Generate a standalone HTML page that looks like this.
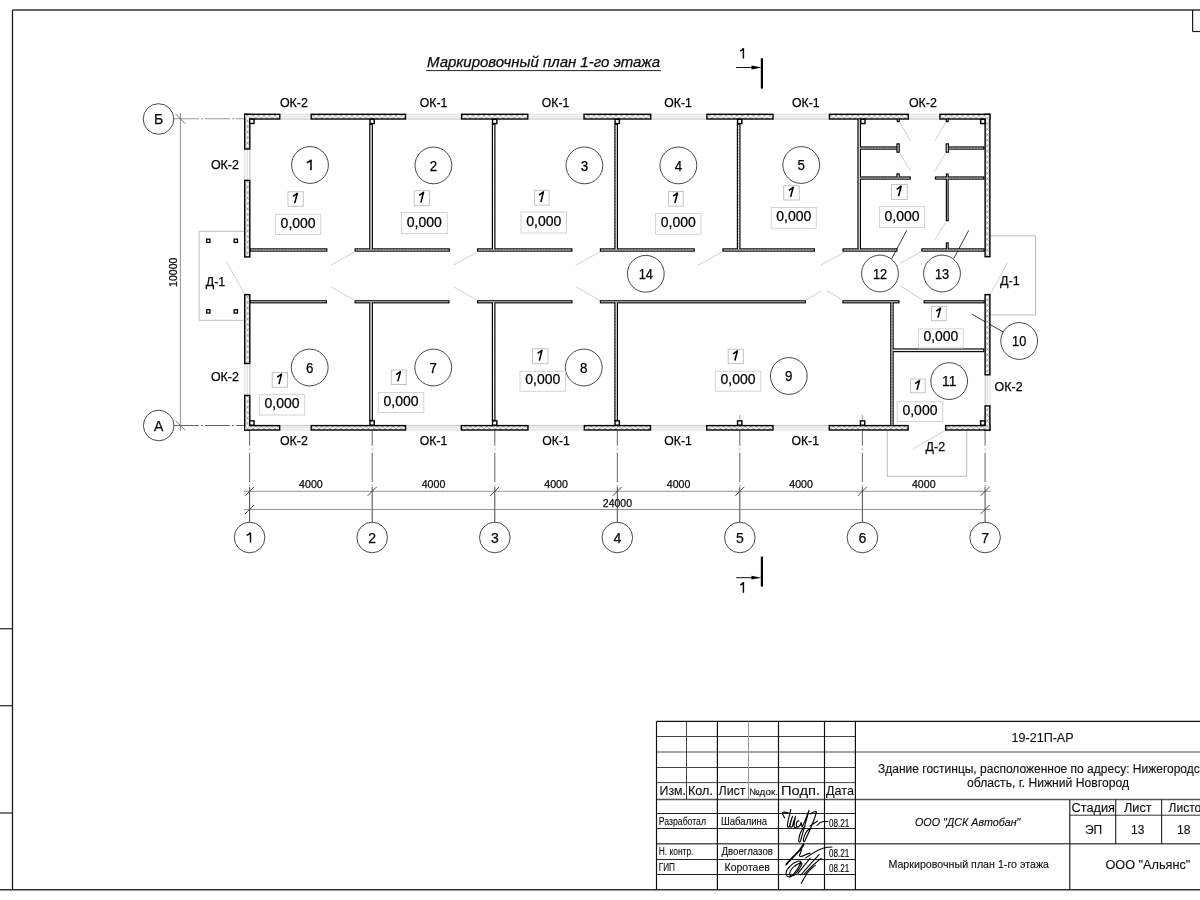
<!DOCTYPE html><html><head><meta charset="utf-8"><style>html,body{margin:0;padding:0;background:#fff;}svg{display:block;will-change:transform;}text{font-family:"Liberation Sans",sans-serif;stroke:#000;stroke-width:0.25px;}</style></head><body>
<svg width="1200" height="900" viewBox="0 0 1200 900">
<defs><pattern id="hatch" patternUnits="userSpaceOnUse" width="5.5" height="5.5"><rect width="5.5" height="5.5" fill="#f6f6f6"/><path d="M0,0L5.5,5.5M5.5,0L0,5.5" stroke="#8a8a8a" stroke-width="0.7"/></pattern><pattern id="phatch" patternUnits="userSpaceOnUse" width="3" height="3"><rect width="3" height="3" fill="#f0f0f0"/><rect width="1.2" height="1.2" fill="#aaa"/></pattern></defs>
<rect width="1200" height="900" fill="#fff"/>
<line x1="12.5" y1="10" x2="1200" y2="10" stroke="#333" stroke-width="1.6" />
<line x1="12.5" y1="10" x2="12.5" y2="890" stroke="#1c1c1c" stroke-width="1.3" />
<line x1="0" y1="889.8" x2="1200" y2="889.8" stroke="#333" stroke-width="1.6" />
<line x1="1192.6" y1="10" x2="1192.6" y2="31.5" stroke="#1c1c1c" stroke-width="1.2" />
<line x1="1192.6" y1="31.5" x2="1200" y2="31.5" stroke="#1c1c1c" stroke-width="1.2" />
<line x1="0" y1="628.7" x2="12.5" y2="628.7" stroke="#333" stroke-width="1.3" />
<line x1="0" y1="705.7" x2="12.5" y2="705.7" stroke="#333" stroke-width="1.3" />
<line x1="0" y1="813" x2="12.5" y2="813" stroke="#333" stroke-width="1.3" />
<text x="427" y="67.4" font-size="14" text-anchor="start" fill="#111" font-style="italic" textLength="233" lengthAdjust="spacingAndGlyphs" >Маркировочный план 1-го этажа</text>
<line x1="426" y1="70.6" x2="661" y2="70.6" stroke="#222" stroke-width="1.0" />
<line x1="761.9" y1="58.3" x2="761.9" y2="88.6" stroke="#000" stroke-width="2.2" />
<line x1="736.2" y1="67.5" x2="752" y2="67.5" stroke="#111" stroke-width="1.0" />
<path d="M751.5,65.6 L761.5,67.5 L751.5,69.4 Z" fill="#000"/>
<path d="M740.3,51.00 C741.8,50.20 742.9,49.40 743.4,48.20 L743.4,58.60" fill="none" stroke="#000" stroke-width="1.45"/>
<line x1="761.9" y1="556.6" x2="761.9" y2="586.6" stroke="#000" stroke-width="2.2" />
<line x1="736.2" y1="577.7" x2="752" y2="577.7" stroke="#111" stroke-width="1.0" />
<path d="M751.5,575.8000000000001 L761.5,577.7 L751.5,579.6 Z" fill="#000"/>
<path d="M740.3,585.10 C741.8,584.30 742.9,583.50 743.4,582.30 L743.4,592.70" fill="none" stroke="#000" stroke-width="1.45"/>
<polyline points="244.6,231.3 199.1,231.3 199.1,320.3 244.6,320.3" fill="none" stroke="#b4b4b4" stroke-width="0.9"/>
<polyline points="990,235.8 1035.5,235.8 1035.5,314.9 990,314.9" fill="none" stroke="#b4b4b4" stroke-width="0.9"/>
<polyline points="887.3,430.4 887.3,476.3 966.7,476.3 966.7,430.4" fill="none" stroke="#b4b4b4" stroke-width="0.9"/>
<rect x="206.65" y="239.15" width="3.30" height="3.30" fill="#fff" stroke="#000" stroke-width="1.3"/>
<rect x="234.15" y="239.15" width="3.30" height="3.30" fill="#fff" stroke="#000" stroke-width="1.3"/>
<rect x="206.65" y="309.75" width="3.30" height="3.30" fill="#fff" stroke="#000" stroke-width="1.3"/>
<rect x="234.15" y="309.75" width="3.30" height="3.30" fill="#fff" stroke="#000" stroke-width="1.3"/>
<line x1="249.6" y1="430.7" x2="249.6" y2="489" stroke="#555" stroke-width="0.9" stroke-dasharray="29.5,3,1,3" stroke-dashoffset="14.5"/>
<line x1="249.6" y1="487.0" x2="249.6" y2="522" stroke="#333" stroke-width="0.9" />
<circle cx="249.6" cy="537.5" r="15.3" fill="none" stroke="#333" stroke-width="0.9"/>
<path d="M246.60,535.3 C248.50,534.6 250.00,533.6 250.50,532.6 L250.50,542.5" fill="none" stroke="#000" stroke-width="1.4"/>
<line x1="372.2" y1="430.7" x2="372.2" y2="489" stroke="#555" stroke-width="0.9" stroke-dasharray="29.5,3,1,3" stroke-dashoffset="14.5"/>
<line x1="372.2" y1="487.0" x2="372.2" y2="522" stroke="#333" stroke-width="0.9" />
<circle cx="372.2" cy="537.5" r="15.3" fill="none" stroke="#333" stroke-width="0.9"/>
<text x="372.2" y="542.6" font-size="14" text-anchor="middle" fill="#111" >2</text>
<line x1="494.8" y1="430.7" x2="494.8" y2="489" stroke="#555" stroke-width="0.9" stroke-dasharray="29.5,3,1,3" stroke-dashoffset="14.5"/>
<line x1="494.8" y1="487.0" x2="494.8" y2="522" stroke="#333" stroke-width="0.9" />
<circle cx="494.8" cy="537.5" r="15.3" fill="none" stroke="#333" stroke-width="0.9"/>
<text x="494.8" y="542.6" font-size="14" text-anchor="middle" fill="#111" >3</text>
<line x1="617.3" y1="430.7" x2="617.3" y2="489" stroke="#555" stroke-width="0.9" stroke-dasharray="29.5,3,1,3" stroke-dashoffset="14.5"/>
<line x1="617.3" y1="487.0" x2="617.3" y2="522" stroke="#333" stroke-width="0.9" />
<circle cx="617.3" cy="537.5" r="15.3" fill="none" stroke="#333" stroke-width="0.9"/>
<text x="617.3" y="542.6" font-size="14" text-anchor="middle" fill="#111" >4</text>
<line x1="739.8" y1="430.7" x2="739.8" y2="489" stroke="#555" stroke-width="0.9" stroke-dasharray="29.5,3,1,3" stroke-dashoffset="14.5"/>
<line x1="739.8" y1="487.0" x2="739.8" y2="522" stroke="#333" stroke-width="0.9" />
<circle cx="739.8" cy="537.5" r="15.3" fill="none" stroke="#333" stroke-width="0.9"/>
<text x="739.8" y="542.6" font-size="14" text-anchor="middle" fill="#111" >5</text>
<line x1="862.4" y1="430.7" x2="862.4" y2="489" stroke="#555" stroke-width="0.9" stroke-dasharray="29.5,3,1,3" stroke-dashoffset="14.5"/>
<line x1="862.4" y1="487.0" x2="862.4" y2="522" stroke="#333" stroke-width="0.9" />
<circle cx="862.4" cy="537.5" r="15.3" fill="none" stroke="#333" stroke-width="0.9"/>
<text x="862.4" y="542.6" font-size="14" text-anchor="middle" fill="#111" >6</text>
<line x1="985.1" y1="430.7" x2="985.1" y2="489" stroke="#555" stroke-width="0.9" stroke-dasharray="29.5,3,1,3" stroke-dashoffset="14.5"/>
<line x1="985.1" y1="487.0" x2="985.1" y2="522" stroke="#333" stroke-width="0.9" />
<circle cx="985.1" cy="537.5" r="15.3" fill="none" stroke="#333" stroke-width="0.9"/>
<text x="985.1" y="542.6" font-size="14" text-anchor="middle" fill="#111" >7</text>
<line x1="739.8" y1="414.8" x2="739.8" y2="420" stroke="#999" stroke-width="0.9" />
<line x1="862.4" y1="414.8" x2="862.4" y2="420" stroke="#999" stroke-width="0.9" />
<line x1="174" y1="118.75" x2="244.0" y2="118.75" stroke="#999" stroke-width="1.2" stroke-dasharray="25,2,2,2"/>
<line x1="174" y1="425.5" x2="244.0" y2="425.5" stroke="#555" stroke-width="0.9" stroke-dasharray="25,2,2,2"/>
<circle cx="158.5" cy="119" r="15.3" fill="none" stroke="#333" stroke-width="0.9"/>
<text x="158.5" y="124.1" font-size="14" text-anchor="middle" fill="#111" >Б</text>
<circle cx="158.7" cy="425.5" r="15.3" fill="none" stroke="#333" stroke-width="0.9"/>
<text x="158.7" y="430.6" font-size="14" text-anchor="middle" fill="#111" >А</text>
<line x1="243.7" y1="491.3" x2="990.8" y2="491.3" stroke="#7a7a7a" stroke-width="0.8" />
<line x1="243.7" y1="509.5" x2="990.8" y2="509.5" stroke="#7a7a7a" stroke-width="0.8" />
<line x1="245.1" y1="495.8" x2="254.1" y2="486.8" stroke="#333" stroke-width="0.9" />
<line x1="367.7" y1="495.8" x2="376.7" y2="486.8" stroke="#333" stroke-width="0.9" />
<line x1="490.3" y1="495.8" x2="499.3" y2="486.8" stroke="#333" stroke-width="0.9" />
<line x1="612.8" y1="495.8" x2="621.8" y2="486.8" stroke="#333" stroke-width="0.9" />
<line x1="735.3" y1="495.8" x2="744.3" y2="486.8" stroke="#333" stroke-width="0.9" />
<line x1="857.9" y1="495.8" x2="866.9" y2="486.8" stroke="#333" stroke-width="0.9" />
<line x1="980.6" y1="495.8" x2="989.6" y2="486.8" stroke="#333" stroke-width="0.9" />
<line x1="245.1" y1="514.0" x2="254.1" y2="505.0" stroke="#333" stroke-width="0.9" />
<line x1="980.6" y1="514.0" x2="989.6" y2="505.0" stroke="#333" stroke-width="0.9" />
<text x="310.9" y="488.2" font-size="10.5" text-anchor="middle" fill="#111" textLength="23.6" lengthAdjust="spacingAndGlyphs" >4000</text>
<text x="433.5" y="488.2" font-size="10.5" text-anchor="middle" fill="#111" textLength="23.6" lengthAdjust="spacingAndGlyphs" >4000</text>
<text x="556.05" y="488.2" font-size="10.5" text-anchor="middle" fill="#111" textLength="23.6" lengthAdjust="spacingAndGlyphs" >4000</text>
<text x="678.55" y="488.2" font-size="10.5" text-anchor="middle" fill="#111" textLength="23.6" lengthAdjust="spacingAndGlyphs" >4000</text>
<text x="801.0999999999999" y="488.2" font-size="10.5" text-anchor="middle" fill="#111" textLength="23.6" lengthAdjust="spacingAndGlyphs" >4000</text>
<text x="923.75" y="488.2" font-size="10.5" text-anchor="middle" fill="#111" textLength="23.6" lengthAdjust="spacingAndGlyphs" >4000</text>
<text x="617.4" y="506.9" font-size="10.5" text-anchor="middle" fill="#111" >24000</text>
<line x1="180.4" y1="113" x2="180.4" y2="431" stroke="#7a7a7a" stroke-width="0.8" />
<line x1="175.5" y1="113.8" x2="185.3" y2="123.6" stroke="#555" stroke-width="0.8" />
<line x1="175.5" y1="420.6" x2="185.3" y2="430.4" stroke="#555" stroke-width="0.8" />
<text x="0" y="0" font-size="10.5" text-anchor="middle" fill="#111" transform="translate(177.2,272.3) rotate(-90)">10000</text>
<line x1="280.5" y1="114.39999999999999" x2="310.5" y2="114.39999999999999" stroke="#d0d0d0" stroke-width="0.8" />
<line x1="280.5" y1="116.65" x2="310.5" y2="116.65" stroke="#d0d0d0" stroke-width="0.8" />
<line x1="280.5" y1="119.0" x2="310.5" y2="119.0" stroke="#aaa" stroke-width="0.8" />
<line x1="406.2" y1="114.39999999999999" x2="460.9" y2="114.39999999999999" stroke="#d0d0d0" stroke-width="0.8" />
<line x1="406.2" y1="116.65" x2="460.9" y2="116.65" stroke="#d0d0d0" stroke-width="0.8" />
<line x1="406.2" y1="119.0" x2="460.9" y2="119.0" stroke="#aaa" stroke-width="0.8" />
<line x1="528.5" y1="114.39999999999999" x2="583.3" y2="114.39999999999999" stroke="#d0d0d0" stroke-width="0.8" />
<line x1="528.5" y1="116.65" x2="583.3" y2="116.65" stroke="#d0d0d0" stroke-width="0.8" />
<line x1="528.5" y1="119.0" x2="583.3" y2="119.0" stroke="#aaa" stroke-width="0.8" />
<line x1="651.5" y1="114.39999999999999" x2="706.2" y2="114.39999999999999" stroke="#d0d0d0" stroke-width="0.8" />
<line x1="651.5" y1="116.65" x2="706.2" y2="116.65" stroke="#d0d0d0" stroke-width="0.8" />
<line x1="651.5" y1="119.0" x2="706.2" y2="119.0" stroke="#aaa" stroke-width="0.8" />
<line x1="773.75" y1="114.39999999999999" x2="828.75" y2="114.39999999999999" stroke="#d0d0d0" stroke-width="0.8" />
<line x1="773.75" y1="116.65" x2="828.75" y2="116.65" stroke="#d0d0d0" stroke-width="0.8" />
<line x1="773.75" y1="119.0" x2="828.75" y2="119.0" stroke="#aaa" stroke-width="0.8" />
<line x1="909" y1="114.39999999999999" x2="939.2" y2="114.39999999999999" stroke="#d0d0d0" stroke-width="0.8" />
<line x1="909" y1="116.65" x2="939.2" y2="116.65" stroke="#d0d0d0" stroke-width="0.8" />
<line x1="909" y1="119.0" x2="939.2" y2="119.0" stroke="#aaa" stroke-width="0.8" />
<line x1="280.4" y1="425.7" x2="310.5" y2="425.7" stroke="#aaa" stroke-width="0.8" />
<line x1="280.4" y1="427.79999999999995" x2="310.5" y2="427.79999999999995" stroke="#d0d0d0" stroke-width="0.8" />
<line x1="280.4" y1="430.0" x2="310.5" y2="430.0" stroke="#d0d0d0" stroke-width="0.8" />
<line x1="406.25" y1="425.7" x2="460.6" y2="425.7" stroke="#aaa" stroke-width="0.8" />
<line x1="406.25" y1="427.79999999999995" x2="460.6" y2="427.79999999999995" stroke="#d0d0d0" stroke-width="0.8" />
<line x1="406.25" y1="430.0" x2="460.6" y2="430.0" stroke="#d0d0d0" stroke-width="0.8" />
<line x1="528.7" y1="425.7" x2="583.6" y2="425.7" stroke="#aaa" stroke-width="0.8" />
<line x1="528.7" y1="427.79999999999995" x2="583.6" y2="427.79999999999995" stroke="#d0d0d0" stroke-width="0.8" />
<line x1="528.7" y1="430.0" x2="583.6" y2="430.0" stroke="#d0d0d0" stroke-width="0.8" />
<line x1="651.2" y1="425.7" x2="706" y2="425.7" stroke="#aaa" stroke-width="0.8" />
<line x1="651.2" y1="427.79999999999995" x2="706" y2="427.79999999999995" stroke="#d0d0d0" stroke-width="0.8" />
<line x1="651.2" y1="430.0" x2="706" y2="430.0" stroke="#d0d0d0" stroke-width="0.8" />
<line x1="773.7" y1="425.7" x2="828.5" y2="425.7" stroke="#aaa" stroke-width="0.8" />
<line x1="773.7" y1="427.79999999999995" x2="828.5" y2="427.79999999999995" stroke="#d0d0d0" stroke-width="0.8" />
<line x1="773.7" y1="430.0" x2="828.5" y2="430.0" stroke="#d0d0d0" stroke-width="0.8" />
<line x1="244.8" y1="149.7" x2="244.8" y2="179.7" stroke="#d0d0d0" stroke-width="0.8" />
<line x1="247.25" y1="149.7" x2="247.25" y2="179.7" stroke="#d0d0d0" stroke-width="0.8" />
<line x1="249.8" y1="149.7" x2="249.8" y2="179.7" stroke="#aaa" stroke-width="0.8" />
<line x1="244.8" y1="364.2" x2="244.8" y2="394.7" stroke="#d0d0d0" stroke-width="0.8" />
<line x1="247.25" y1="364.2" x2="247.25" y2="394.7" stroke="#d0d0d0" stroke-width="0.8" />
<line x1="249.8" y1="364.2" x2="249.8" y2="394.7" stroke="#aaa" stroke-width="0.8" />
<line x1="985.1999999999999" y1="375.5" x2="985.1999999999999" y2="405.2" stroke="#aaa" stroke-width="0.8" />
<line x1="987.5" y1="375.5" x2="987.5" y2="405.2" stroke="#d0d0d0" stroke-width="0.8" />
<line x1="989.9" y1="375.5" x2="989.9" y2="405.2" stroke="#d0d0d0" stroke-width="0.8" />
<line x1="906.7" y1="230.4" x2="891.7" y2="258.7" stroke="#222" stroke-width="0.9" />
<line x1="968.7" y1="230.4" x2="953.7" y2="258.5" stroke="#222" stroke-width="0.9" />
<line x1="971.8" y1="314.2" x2="1003.1" y2="331.9" stroke="#222" stroke-width="0.9" />
<rect x="244.00" y="113.60" width="36.50" height="6.10" fill="#000"/>
<rect x="310.50" y="113.60" width="95.70" height="6.10" fill="#000"/>
<rect x="460.90" y="113.60" width="67.60" height="6.10" fill="#000"/>
<rect x="583.30" y="113.60" width="68.20" height="6.10" fill="#000"/>
<rect x="706.20" y="113.60" width="67.55" height="6.10" fill="#000"/>
<rect x="828.75" y="113.60" width="80.25" height="6.10" fill="#000"/>
<rect x="939.20" y="113.60" width="51.40" height="6.10" fill="#000"/>
<rect x="244.00" y="424.90" width="36.40" height="5.80" fill="#000"/>
<rect x="310.50" y="424.90" width="95.75" height="5.80" fill="#000"/>
<rect x="460.60" y="424.90" width="68.10" height="5.80" fill="#000"/>
<rect x="583.60" y="424.90" width="67.60" height="5.80" fill="#000"/>
<rect x="706.00" y="424.90" width="67.70" height="5.80" fill="#000"/>
<rect x="828.50" y="424.90" width="80.30" height="5.80" fill="#000"/>
<rect x="945.00" y="424.90" width="45.60" height="5.80" fill="#000"/>
<rect x="244.00" y="113.60" width="6.50" height="36.10" fill="#000"/>
<rect x="244.00" y="179.70" width="6.50" height="77.90" fill="#000"/>
<rect x="244.00" y="293.90" width="6.50" height="70.30" fill="#000"/>
<rect x="244.00" y="394.70" width="6.50" height="36.00" fill="#000"/>
<rect x="984.40" y="113.60" width="6.20" height="143.80" fill="#000"/>
<rect x="984.40" y="293.90" width="6.20" height="81.60" fill="#000"/>
<rect x="984.40" y="405.20" width="6.20" height="25.50" fill="#000"/>
<rect x="249.80" y="248.30" width="77.60" height="3.40" fill="#000"/>
<rect x="354.50" y="248.30" width="95.40" height="3.40" fill="#000"/>
<rect x="477.00" y="248.30" width="95.40" height="3.40" fill="#000"/>
<rect x="599.80" y="248.30" width="95.00" height="3.40" fill="#000"/>
<rect x="722.30" y="248.30" width="92.70" height="3.40" fill="#000"/>
<rect x="842.50" y="248.30" width="55.00" height="3.40" fill="#000"/>
<rect x="921.30" y="248.30" width="63.40" height="3.40" fill="#000"/>
<rect x="249.80" y="300.20" width="77.20" height="3.20" fill="#000"/>
<rect x="354.50" y="300.20" width="95.00" height="3.20" fill="#000"/>
<rect x="477.00" y="300.20" width="95.50" height="3.20" fill="#000"/>
<rect x="599.80" y="300.20" width="206.10" height="3.20" fill="#000"/>
<rect x="842.30" y="300.20" width="57.20" height="3.20" fill="#000"/>
<rect x="923.50" y="300.20" width="61.20" height="3.20" fill="#000"/>
<rect x="369.20" y="123.70" width="3.70" height="126.90" fill="#000"/>
<rect x="491.80" y="123.70" width="3.70" height="126.90" fill="#000"/>
<rect x="614.30" y="123.70" width="3.70" height="126.90" fill="#000"/>
<rect x="736.80" y="123.70" width="3.70" height="126.90" fill="#000"/>
<rect x="857.40" y="118.30" width="3.60" height="132.30" fill="#000"/>
<rect x="369.20" y="301.10" width="3.70" height="119.80" fill="#000"/>
<rect x="491.80" y="301.10" width="3.70" height="119.80" fill="#000"/>
<rect x="614.30" y="301.10" width="3.70" height="119.80" fill="#000"/>
<rect x="890.20" y="301.10" width="3.50" height="125.20" fill="#000"/>
<rect x="891.40" y="348.40" width="93.00" height="3.80" fill="#000"/>
<rect x="858.60" y="146.40" width="39.00" height="3.30" fill="#000"/>
<rect x="896.40" y="143.30" width="3.40" height="9.50" fill="#000"/>
<rect x="945.60" y="143.30" width="3.40" height="9.50" fill="#000"/>
<rect x="947.80" y="146.40" width="36.60" height="3.30" fill="#000"/>
<rect x="858.60" y="176.40" width="52.20" height="3.30" fill="#000"/>
<rect x="896.40" y="173.30" width="3.40" height="5.10" fill="#000"/>
<rect x="934.90" y="176.40" width="49.50" height="3.30" fill="#000"/>
<rect x="945.80" y="173.40" width="2.90" height="47.90" fill="#000"/>
<rect x="945.80" y="242.30" width="2.90" height="8.30" fill="#000"/>
<rect x="896.70" y="118.30" width="3.10" height="3.90" fill="#000"/>
<rect x="945.80" y="118.30" width="2.90" height="3.90" fill="#000"/>
<rect x="245.40" y="115.00" width="33.70" height="3.30" fill="url(#hatch)"/>
<rect x="311.90" y="115.00" width="92.90" height="3.30" fill="url(#hatch)"/>
<rect x="462.30" y="115.00" width="64.80" height="3.30" fill="url(#hatch)"/>
<rect x="584.70" y="115.00" width="65.40" height="3.30" fill="url(#hatch)"/>
<rect x="707.60" y="115.00" width="64.75" height="3.30" fill="url(#hatch)"/>
<rect x="830.15" y="115.00" width="77.45" height="3.30" fill="url(#hatch)"/>
<rect x="940.60" y="115.00" width="48.60" height="3.30" fill="url(#hatch)"/>
<rect x="245.40" y="426.30" width="33.60" height="3.00" fill="url(#hatch)"/>
<rect x="311.90" y="426.30" width="92.95" height="3.00" fill="url(#hatch)"/>
<rect x="462.00" y="426.30" width="65.30" height="3.00" fill="url(#hatch)"/>
<rect x="585.00" y="426.30" width="64.80" height="3.00" fill="url(#hatch)"/>
<rect x="707.40" y="426.30" width="64.90" height="3.00" fill="url(#hatch)"/>
<rect x="829.90" y="426.30" width="77.50" height="3.00" fill="url(#hatch)"/>
<rect x="946.40" y="426.30" width="42.80" height="3.00" fill="url(#hatch)"/>
<rect x="245.40" y="115.00" width="3.70" height="33.30" fill="url(#hatch)"/>
<rect x="245.40" y="181.10" width="3.70" height="75.10" fill="url(#hatch)"/>
<rect x="245.40" y="295.30" width="3.70" height="67.50" fill="url(#hatch)"/>
<rect x="245.40" y="396.10" width="3.70" height="33.20" fill="url(#hatch)"/>
<rect x="985.80" y="115.00" width="3.40" height="141.00" fill="url(#hatch)"/>
<rect x="985.80" y="295.30" width="3.40" height="78.80" fill="url(#hatch)"/>
<rect x="985.80" y="406.60" width="3.40" height="22.70" fill="url(#hatch)"/>
<rect x="250.95" y="249.45" width="75.30" height="1.10" fill="url(#phatch)"/>
<rect x="355.65" y="249.45" width="93.10" height="1.10" fill="url(#phatch)"/>
<rect x="478.15" y="249.45" width="93.10" height="1.10" fill="url(#phatch)"/>
<rect x="600.95" y="249.45" width="92.70" height="1.10" fill="url(#phatch)"/>
<rect x="723.45" y="249.45" width="90.40" height="1.10" fill="url(#phatch)"/>
<rect x="843.65" y="249.45" width="52.70" height="1.10" fill="url(#phatch)"/>
<rect x="922.45" y="249.45" width="61.10" height="1.10" fill="url(#phatch)"/>
<rect x="250.95" y="301.35" width="74.90" height="0.90" fill="url(#phatch)"/>
<rect x="355.65" y="301.35" width="92.70" height="0.90" fill="url(#phatch)"/>
<rect x="478.15" y="301.35" width="93.20" height="0.90" fill="url(#phatch)"/>
<rect x="600.95" y="301.35" width="203.80" height="0.90" fill="url(#phatch)"/>
<rect x="843.45" y="301.35" width="54.90" height="0.90" fill="url(#phatch)"/>
<rect x="924.65" y="301.35" width="58.90" height="0.90" fill="url(#phatch)"/>
<rect x="370.35" y="124.85" width="1.40" height="124.60" fill="url(#phatch)"/>
<rect x="492.95" y="124.85" width="1.40" height="124.60" fill="url(#phatch)"/>
<rect x="615.45" y="124.85" width="1.40" height="124.60" fill="url(#phatch)"/>
<rect x="737.95" y="124.85" width="1.40" height="124.60" fill="url(#phatch)"/>
<rect x="858.55" y="119.45" width="1.30" height="130.00" fill="url(#phatch)"/>
<rect x="370.35" y="302.25" width="1.40" height="117.50" fill="url(#phatch)"/>
<rect x="492.95" y="302.25" width="1.40" height="117.50" fill="url(#phatch)"/>
<rect x="615.45" y="302.25" width="1.40" height="117.50" fill="url(#phatch)"/>
<rect x="891.35" y="302.25" width="1.20" height="122.90" fill="url(#phatch)"/>
<rect x="892.55" y="349.55" width="90.70" height="1.50" fill="url(#phatch)"/>
<rect x="859.75" y="147.55" width="36.70" height="1.00" fill="url(#phatch)"/>
<rect x="897.55" y="144.45" width="1.10" height="7.20" fill="url(#phatch)"/>
<rect x="946.75" y="144.45" width="1.10" height="7.20" fill="url(#phatch)"/>
<rect x="948.95" y="147.55" width="34.30" height="1.00" fill="url(#phatch)"/>
<rect x="859.75" y="177.55" width="49.90" height="1.00" fill="url(#phatch)"/>
<rect x="897.55" y="174.45" width="1.10" height="2.80" fill="url(#phatch)"/>
<rect x="936.05" y="177.55" width="47.20" height="1.00" fill="url(#phatch)"/>
<rect x="946.95" y="174.55" width="0.60" height="45.60" fill="url(#phatch)"/>
<rect x="946.95" y="243.45" width="0.60" height="6.00" fill="url(#phatch)"/>
<rect x="897.85" y="119.45" width="0.80" height="1.60" fill="url(#phatch)"/>
<rect x="946.95" y="119.45" width="0.60" height="1.60" fill="url(#phatch)"/>
<rect x="369.95" y="119.25" width="4.30" height="4.30" fill="#fff" stroke="#000" stroke-width="1.4"/>
<rect x="369.95" y="420.85" width="4.30" height="4.30" fill="#fff" stroke="#000" stroke-width="1.4"/>
<rect x="492.55" y="119.25" width="4.30" height="4.30" fill="#fff" stroke="#000" stroke-width="1.4"/>
<rect x="492.55" y="420.85" width="4.30" height="4.30" fill="#fff" stroke="#000" stroke-width="1.4"/>
<rect x="615.05" y="119.25" width="4.30" height="4.30" fill="#fff" stroke="#000" stroke-width="1.4"/>
<rect x="615.05" y="420.85" width="4.30" height="4.30" fill="#fff" stroke="#000" stroke-width="1.4"/>
<rect x="737.55" y="119.25" width="4.30" height="4.30" fill="#fff" stroke="#000" stroke-width="1.4"/>
<rect x="737.55" y="420.85" width="4.30" height="4.30" fill="#fff" stroke="#000" stroke-width="1.4"/>
<rect x="249.70" y="119.15" width="4.30" height="4.30" fill="#fff" stroke="#000" stroke-width="1.4"/>
<rect x="249.70" y="420.85" width="4.30" height="4.30" fill="#fff" stroke="#000" stroke-width="1.4"/>
<rect x="860.75" y="119.25" width="4.30" height="4.30" fill="#fff" stroke="#000" stroke-width="1.4"/>
<rect x="860.45" y="420.85" width="4.30" height="4.30" fill="#fff" stroke="#000" stroke-width="1.4"/>
<rect x="980.70" y="119.25" width="4.30" height="4.30" fill="#fff" stroke="#000" stroke-width="1.4"/>
<rect x="980.60" y="420.85" width="4.30" height="4.30" fill="#fff" stroke="#000" stroke-width="1.4"/>
<line x1="354.5" y1="252" x2="330.6" y2="265.3" stroke="#c4c4c4" stroke-width="0.8" />
<line x1="477.0" y1="252" x2="453.1" y2="265.3" stroke="#c4c4c4" stroke-width="0.8" />
<line x1="599.5" y1="252" x2="575.6" y2="265.3" stroke="#c4c4c4" stroke-width="0.8" />
<line x1="722.0" y1="252" x2="698.1" y2="265.3" stroke="#c4c4c4" stroke-width="0.8" />
<line x1="844.5" y1="252" x2="820.6" y2="265.3" stroke="#c4c4c4" stroke-width="0.8" />
<line x1="354.5" y1="300.2" x2="331.2" y2="287" stroke="#c4c4c4" stroke-width="0.8" />
<line x1="477.0" y1="300.2" x2="453.7" y2="287" stroke="#c4c4c4" stroke-width="0.8" />
<line x1="599.5" y1="300.2" x2="576.2" y2="287" stroke="#c4c4c4" stroke-width="0.8" />
<line x1="805.9" y1="300.2" x2="821.5" y2="290.8" stroke="#c4c4c4" stroke-width="0.8" />
<line x1="842.5" y1="300.2" x2="827.3" y2="290.8" stroke="#c4c4c4" stroke-width="0.8" />
<line x1="921.3" y1="251.7" x2="900.0" y2="263.3" stroke="#c4c4c4" stroke-width="0.8" />
<line x1="923.5" y1="300.5" x2="900.7" y2="286.2" stroke="#c4c4c4" stroke-width="0.8" />
<line x1="899.8" y1="122.2" x2="910.4" y2="140.8" stroke="#c4c4c4" stroke-width="0.8" />
<line x1="945.8" y1="122.2" x2="934.9" y2="140.8" stroke="#c4c4c4" stroke-width="0.8" />
<line x1="899.8" y1="152.9" x2="910.4" y2="170.8" stroke="#c4c4c4" stroke-width="0.8" />
<line x1="945.8" y1="152.9" x2="934.9" y2="170.8" stroke="#c4c4c4" stroke-width="0.8" />
<line x1="945.8" y1="222.1" x2="934.9" y2="239.7" stroke="#c4c4c4" stroke-width="0.8" />
<line x1="244.4" y1="293.3" x2="226.7" y2="262.2" stroke="#c4c4c4" stroke-width="0.8" />
<line x1="990.5" y1="293.9" x2="1007.5" y2="262.8" stroke="#c4c4c4" stroke-width="0.8" />
<line x1="944.7" y1="430.8" x2="913.3" y2="448.7" stroke="#c4c4c4" stroke-width="0.8" />
<circle cx="310" cy="165" r="18.4" fill="none" stroke="#333" stroke-width="0.9"/>
<path d="M306.80,162.80 C308.80,162.00 310.40,161.00 311.00,159.80 L311.00,170.20" fill="none" stroke="#000" stroke-width="1.5"/>
<rect x="288" y="191.75" width="15.25" height="14.50" stroke="#bdbdbd" stroke-width="0.9" fill="none"/>
<path d="M293.02,196.45 L297.32,193.35 L294.73,203.15" fill="none" stroke="#000" stroke-width="1.55" stroke-linejoin="round"/>
<rect x="275.5" y="214.25" width="45.25" height="20.25" stroke="#cfcfcf" stroke-width="0.9" fill="none"/>
<text x="298.125" y="227.6" font-size="14" text-anchor="middle" fill="#000" >0,000</text>
<circle cx="433.4" cy="165.4" r="18.4" fill="none" stroke="#333" stroke-width="0.9"/>
<text x="433.4" y="170.70000000000002" font-size="15" text-anchor="middle" fill="#000" textLength="7.4" lengthAdjust="spacingAndGlyphs" >2</text>
<rect x="414.2" y="190.7" width="15.20" height="15.00" stroke="#bdbdbd" stroke-width="0.9" fill="none"/>
<path d="M419.20,195.40 L423.50,192.30 L420.90,202.60" fill="none" stroke="#000" stroke-width="1.55" stroke-linejoin="round"/>
<rect x="401.4" y="212.5" width="45.80" height="21.10" stroke="#cfcfcf" stroke-width="0.9" fill="none"/>
<text x="424.29999999999995" y="226.7" font-size="14" text-anchor="middle" fill="#000" >0,000</text>
<circle cx="584.4" cy="165.4" r="18.4" fill="none" stroke="#333" stroke-width="0.9"/>
<text x="584.4" y="170.70000000000002" font-size="15" text-anchor="middle" fill="#000" textLength="7.4" lengthAdjust="spacingAndGlyphs" >3</text>
<rect x="534.4" y="190.3" width="14.70" height="14.80" stroke="#bdbdbd" stroke-width="0.9" fill="none"/>
<path d="M539.15,195.00 L543.45,191.90 L540.85,202.00" fill="none" stroke="#000" stroke-width="1.55" stroke-linejoin="round"/>
<rect x="521" y="212" width="45.50" height="21.00" stroke="#cfcfcf" stroke-width="0.9" fill="none"/>
<text x="543.75" y="226.1" font-size="14" text-anchor="middle" fill="#000" >0,000</text>
<circle cx="678.4" cy="165.4" r="18.4" fill="none" stroke="#333" stroke-width="0.9"/>
<text x="678.4" y="170.70000000000002" font-size="15" text-anchor="middle" fill="#000" textLength="7.4" lengthAdjust="spacingAndGlyphs" >4</text>
<rect x="668.4" y="191.4" width="14.80" height="14.70" stroke="#bdbdbd" stroke-width="0.9" fill="none"/>
<path d="M673.20,196.10 L677.50,193.00 L674.90,203.00" fill="none" stroke="#000" stroke-width="1.55" stroke-linejoin="round"/>
<rect x="655.6" y="213.5" width="45.40" height="20.70" stroke="#cfcfcf" stroke-width="0.9" fill="none"/>
<text x="678.3" y="227.29999999999998" font-size="14" text-anchor="middle" fill="#000" >0,000</text>
<circle cx="801.25" cy="165" r="18.4" fill="none" stroke="#333" stroke-width="0.9"/>
<text x="801.25" y="170.3" font-size="15" text-anchor="middle" fill="#000" textLength="7.4" lengthAdjust="spacingAndGlyphs" >5</text>
<rect x="783.75" y="185.75" width="15.50" height="14.25" stroke="#bdbdbd" stroke-width="0.9" fill="none"/>
<path d="M788.90,190.45 L793.20,187.35 L790.60,196.90" fill="none" stroke="#000" stroke-width="1.55" stroke-linejoin="round"/>
<rect x="771.25" y="207.5" width="45.00" height="20.75" stroke="#cfcfcf" stroke-width="0.9" fill="none"/>
<text x="793.75" y="221.35" font-size="14" text-anchor="middle" fill="#000" >0,000</text>
<circle cx="309.7" cy="367.5" r="18.4" fill="none" stroke="#333" stroke-width="0.9"/>
<text x="309.7" y="372.8" font-size="15" text-anchor="middle" fill="#000" textLength="7.4" lengthAdjust="spacingAndGlyphs" >6</text>
<rect x="272.2" y="372.5" width="15.30" height="14.70" stroke="#bdbdbd" stroke-width="0.9" fill="none"/>
<path d="M277.25,377.20 L281.55,374.10 L278.95,384.10" fill="none" stroke="#000" stroke-width="1.55" stroke-linejoin="round"/>
<rect x="259.5" y="394.7" width="45.20" height="20.30" stroke="#cfcfcf" stroke-width="0.9" fill="none"/>
<text x="282.1" y="408.1" font-size="14" text-anchor="middle" fill="#000" >0,000</text>
<circle cx="433.25" cy="367.5" r="18.4" fill="none" stroke="#333" stroke-width="0.9"/>
<text x="433.25" y="372.8" font-size="15" text-anchor="middle" fill="#000" textLength="7.4" lengthAdjust="spacingAndGlyphs" >7</text>
<rect x="391.25" y="370" width="15.00" height="14.50" stroke="#bdbdbd" stroke-width="0.9" fill="none"/>
<path d="M396.15,374.70 L400.45,371.60 L397.85,381.40" fill="none" stroke="#000" stroke-width="1.55" stroke-linejoin="round"/>
<rect x="378.25" y="392.5" width="45.50" height="20.00" stroke="#cfcfcf" stroke-width="0.9" fill="none"/>
<text x="401.0" y="405.6" font-size="14" text-anchor="middle" fill="#000" >0,000</text>
<circle cx="583.75" cy="367.5" r="18.4" fill="none" stroke="#333" stroke-width="0.9"/>
<text x="583.75" y="372.8" font-size="15" text-anchor="middle" fill="#000" textLength="7.4" lengthAdjust="spacingAndGlyphs" >8</text>
<rect x="532.5" y="348.75" width="15.50" height="15.00" stroke="#bdbdbd" stroke-width="0.9" fill="none"/>
<path d="M537.65,353.45 L541.95,350.35 L539.35,360.65" fill="none" stroke="#000" stroke-width="1.55" stroke-linejoin="round"/>
<rect x="520" y="371.25" width="45.50" height="20.00" stroke="#cfcfcf" stroke-width="0.9" fill="none"/>
<text x="542.75" y="384.35" font-size="14" text-anchor="middle" fill="#000" >0,000</text>
<circle cx="788.8" cy="376" r="18.4" fill="none" stroke="#333" stroke-width="0.9"/>
<text x="788.8" y="381.3" font-size="15" text-anchor="middle" fill="#000" textLength="7.4" lengthAdjust="spacingAndGlyphs" >9</text>
<rect x="728.2" y="349.2" width="15.10" height="14.40" stroke="#bdbdbd" stroke-width="0.9" fill="none"/>
<path d="M733.15,353.90 L737.45,350.80 L734.85,360.50" fill="none" stroke="#000" stroke-width="1.55" stroke-linejoin="round"/>
<rect x="715.3" y="371.3" width="45.50" height="19.90" stroke="#cfcfcf" stroke-width="0.9" fill="none"/>
<text x="738.05" y="384.3" font-size="14" text-anchor="middle" fill="#000" >0,000</text>
<circle cx="1019.2" cy="341" r="18.4" fill="none" stroke="#333" stroke-width="0.9"/>
<text x="1019.2" y="346.3" font-size="15" text-anchor="middle" fill="#000" textLength="14.2" lengthAdjust="spacingAndGlyphs" >10</text>
<rect x="931.5" y="306.5" width="14.70" height="14.20" stroke="#bdbdbd" stroke-width="0.9" fill="none"/>
<path d="M936.25,311.20 L940.55,308.10 L937.95,317.60" fill="none" stroke="#000" stroke-width="1.55" stroke-linejoin="round"/>
<rect x="918.6" y="328.9" width="44.60" height="19.10" stroke="#cfcfcf" stroke-width="0.9" fill="none"/>
<text x="940.9000000000001" y="341.1" font-size="14" text-anchor="middle" fill="#000" >0,000</text>
<circle cx="949.2" cy="381.1" r="18.4" fill="none" stroke="#333" stroke-width="0.9"/>
<text x="949.2" y="386.40000000000003" font-size="15" text-anchor="middle" fill="#000" textLength="14.2" lengthAdjust="spacingAndGlyphs" >11</text>
<rect x="910.5" y="379" width="14.70" height="13.80" stroke="#bdbdbd" stroke-width="0.9" fill="none"/>
<path d="M915.25,383.70 L919.55,380.60 L916.95,389.70" fill="none" stroke="#000" stroke-width="1.55" stroke-linejoin="round"/>
<rect x="897.2" y="401.7" width="45.50" height="19.80" stroke="#cfcfcf" stroke-width="0.9" fill="none"/>
<text x="919.95" y="414.6" font-size="14" text-anchor="middle" fill="#000" >0,000</text>
<circle cx="880" cy="273.5" r="18.4" fill="none" stroke="#333" stroke-width="0.9"/>
<text x="880" y="278.8" font-size="15" text-anchor="middle" fill="#000" textLength="14.2" lengthAdjust="spacingAndGlyphs" >12</text>
<rect x="891.5" y="184.6" width="15.80" height="14.80" stroke="#bdbdbd" stroke-width="0.9" fill="none"/>
<path d="M896.80,189.30 L901.10,186.20 L898.50,196.30" fill="none" stroke="#000" stroke-width="1.55" stroke-linejoin="round"/>
<rect x="879.4" y="206.6" width="45.20" height="21.00" stroke="#cfcfcf" stroke-width="0.9" fill="none"/>
<text x="902.0" y="220.7" font-size="14" text-anchor="middle" fill="#000" >0,000</text>
<circle cx="942" cy="273.5" r="18.4" fill="none" stroke="#333" stroke-width="0.9"/>
<text x="942" y="278.8" font-size="15" text-anchor="middle" fill="#000" textLength="14.2" lengthAdjust="spacingAndGlyphs" >13</text>
<circle cx="645.8" cy="273.8" r="18.4" fill="none" stroke="#333" stroke-width="0.9"/>
<text x="645.8" y="279.1" font-size="15" text-anchor="middle" fill="#000" textLength="14.2" lengthAdjust="spacingAndGlyphs" >14</text>
<text x="293.9" y="107.2" font-size="13" text-anchor="middle" fill="#000" textLength="28" lengthAdjust="spacingAndGlyphs" >ОК-2</text>
<text x="922.9" y="107.2" font-size="13" text-anchor="middle" fill="#000" textLength="28" lengthAdjust="spacingAndGlyphs" >ОК-2</text>
<text x="433.5" y="107.2" font-size="13" text-anchor="middle" fill="#000" textLength="27.5" lengthAdjust="spacingAndGlyphs" >ОК-1</text>
<text x="555.5" y="107.2" font-size="13" text-anchor="middle" fill="#000" textLength="27.5" lengthAdjust="spacingAndGlyphs" >ОК-1</text>
<text x="678" y="107.2" font-size="13" text-anchor="middle" fill="#000" textLength="27.5" lengthAdjust="spacingAndGlyphs" >ОК-1</text>
<text x="805.75" y="107.2" font-size="13" text-anchor="middle" fill="#000" textLength="27.5" lengthAdjust="spacingAndGlyphs" >ОК-1</text>
<text x="293.9" y="444.6" font-size="13" text-anchor="middle" fill="#000" textLength="28" lengthAdjust="spacingAndGlyphs" >ОК-2</text>
<text x="433.5" y="444.6" font-size="13" text-anchor="middle" fill="#000" textLength="27.5" lengthAdjust="spacingAndGlyphs" >ОК-1</text>
<text x="556" y="444.6" font-size="13" text-anchor="middle" fill="#000" textLength="27.5" lengthAdjust="spacingAndGlyphs" >ОК-1</text>
<text x="678" y="444.6" font-size="13" text-anchor="middle" fill="#000" textLength="27.5" lengthAdjust="spacingAndGlyphs" >ОК-1</text>
<text x="805.2" y="444.6" font-size="13" text-anchor="middle" fill="#000" textLength="27.5" lengthAdjust="spacingAndGlyphs" >ОК-1</text>
<text x="224.9" y="168.8" font-size="13" text-anchor="middle" fill="#000" textLength="28" lengthAdjust="spacingAndGlyphs" >ОК-2</text>
<text x="224.9" y="381.2" font-size="13" text-anchor="middle" fill="#000" textLength="28" lengthAdjust="spacingAndGlyphs" >ОК-2</text>
<text x="1008.6" y="391" font-size="13" text-anchor="middle" fill="#000" textLength="28" lengthAdjust="spacingAndGlyphs" >ОК-2</text>
<text x="215.5" y="285.6" font-size="12.5" text-anchor="middle" fill="#111" >Д-1</text>
<text x="1009.8" y="285.0" font-size="12.5" text-anchor="middle" fill="#111" >Д-1</text>
<text x="935.3" y="451.0" font-size="12.5" text-anchor="middle" fill="#111" >Д-2</text>
<line x1="656.5" y1="721.4" x2="1200" y2="721.4" stroke="#111" stroke-width="1.2" />
<line x1="656.5" y1="736.5" x2="855.4" y2="736.5" stroke="#444" stroke-width="1.0" />
<line x1="656.5" y1="767.5" x2="855.4" y2="767.5" stroke="#444" stroke-width="1.0" />
<line x1="656.5" y1="782.6" x2="855.4" y2="782.6" stroke="#444" stroke-width="1.0" />
<line x1="656.5" y1="752" x2="1200" y2="752" stroke="#888" stroke-width="1.5" />
<line x1="656.5" y1="799.6" x2="1200" y2="799.6" stroke="#555" stroke-width="1.5" />
<line x1="656.5" y1="813.5" x2="855.4" y2="813.5" stroke="#222" stroke-width="1.0" />
<line x1="656.5" y1="828.5" x2="855.4" y2="828.5" stroke="#222" stroke-width="1.0" />
<line x1="656.5" y1="843.8" x2="1200" y2="843.8" stroke="#555" stroke-width="1.5" />
<line x1="656.5" y1="859.5" x2="855.4" y2="859.5" stroke="#222" stroke-width="1.0" />
<line x1="656.5" y1="874.5" x2="855.4" y2="874.5" stroke="#222" stroke-width="1.0" />
<line x1="656.5" y1="721.4" x2="656.5" y2="890" stroke="#111" stroke-width="1.2" />
<line x1="686.5" y1="721.4" x2="686.5" y2="799.4" stroke="#444" stroke-width="1.0" />
<line x1="717.4" y1="721.4" x2="717.4" y2="890" stroke="#111" stroke-width="1.2" />
<line x1="748.5" y1="721.4" x2="748.5" y2="799.4" stroke="#999" stroke-width="1.0" />
<line x1="778.5" y1="721.4" x2="778.5" y2="890" stroke="#111" stroke-width="1.2" />
<line x1="824.5" y1="721.4" x2="824.5" y2="890" stroke="#111" stroke-width="1.2" />
<line x1="855.4" y1="721.4" x2="855.4" y2="890" stroke="#111" stroke-width="1.2" />
<line x1="1069.8" y1="799.4" x2="1069.8" y2="890" stroke="#222" stroke-width="1.2" />
<line x1="1069.8" y1="815.2" x2="1200" y2="815.2" stroke="#333" stroke-width="1.0" />
<line x1="1115.7" y1="799.4" x2="1115.7" y2="844" stroke="#222" stroke-width="1.1" />
<line x1="1161.6" y1="799.4" x2="1161.6" y2="844" stroke="#222" stroke-width="1.1" />
<text x="659.5" y="794.6" font-size="13" text-anchor="start" fill="#111" textLength="26.5" lengthAdjust="spacingAndGlyphs" style="stroke-width:0.12px">Изм.</text>
<text x="688" y="794.6" font-size="13" text-anchor="start" fill="#111" textLength="25" lengthAdjust="spacingAndGlyphs" style="stroke-width:0.12px">Кол.</text>
<text x="718.5" y="794.6" font-size="13" text-anchor="start" fill="#111" textLength="27" lengthAdjust="spacingAndGlyphs" style="stroke-width:0.12px">Лист</text>
<text x="749" y="794.6" font-size="9.5" text-anchor="start" fill="#111" textLength="29" lengthAdjust="spacingAndGlyphs" style="stroke-width:0.12px">№док.</text>
<text x="781" y="794.6" font-size="13" text-anchor="start" fill="#111" textLength="39" lengthAdjust="spacingAndGlyphs" style="stroke-width:0.12px">Подп.</text>
<text x="826" y="794.6" font-size="13" text-anchor="start" fill="#111" textLength="28" lengthAdjust="spacingAndGlyphs" style="stroke-width:0.12px">Дата</text>
<text x="658.8" y="825.1" font-size="10" text-anchor="start" fill="#111" textLength="47.2" lengthAdjust="spacingAndGlyphs" style="stroke-width:0.12px">Разработал</text>
<text x="721" y="824.9" font-size="10.5" text-anchor="start" fill="#111" textLength="46.2" lengthAdjust="spacingAndGlyphs" style="stroke-width:0.12px">Шабалина</text>
<text x="658.8" y="855.1" font-size="10" text-anchor="start" fill="#111" textLength="34.6" lengthAdjust="spacingAndGlyphs" style="stroke-width:0.12px">Н. контр.</text>
<text x="721.5" y="855.1" font-size="10.5" text-anchor="start" fill="#111" textLength="51.4" lengthAdjust="spacingAndGlyphs" style="stroke-width:0.12px">Двоеглазов</text>
<text x="658.8" y="871" font-size="10.5" text-anchor="start" fill="#111" textLength="16.2" lengthAdjust="spacingAndGlyphs" style="stroke-width:0.12px">ГИП</text>
<text x="724.6" y="871" font-size="10.5" text-anchor="start" fill="#111" textLength="45.2" lengthAdjust="spacingAndGlyphs" style="stroke-width:0.12px">Коротаев</text>
<text x="828.9" y="826.7" font-size="11" text-anchor="start" fill="#000" textLength="20.3" lengthAdjust="spacingAndGlyphs" style="stroke-width:0.12px">08.21</text>
<text x="828.9" y="857.0" font-size="11" text-anchor="start" fill="#000" textLength="20.3" lengthAdjust="spacingAndGlyphs" style="stroke-width:0.12px">08.21</text>
<text x="828.9" y="872.2" font-size="11" text-anchor="start" fill="#000" textLength="20.3" lengthAdjust="spacingAndGlyphs" style="stroke-width:0.12px">08.21</text>
<text x="1011.6" y="742" font-size="13" text-anchor="start" fill="#111" textLength="62" lengthAdjust="spacingAndGlyphs" style="stroke-width:0.12px">19-21П-АР</text>
<text x="878" y="773" font-size="12" text-anchor="start" fill="#111" style="stroke-width:0.12px">Здание гостинцы, расположенное по адресу: Нижегородская</text>
<text x="967" y="787" font-size="12" text-anchor="start" fill="#111" textLength="162" lengthAdjust="spacingAndGlyphs" style="stroke-width:0.12px">область, г. Нижний Новгород</text>
<text x="915" y="825.6" font-size="10.5" text-anchor="start" fill="#111" font-style="italic" textLength="105.4" lengthAdjust="spacingAndGlyphs" style="stroke-width:0.12px">ООО "ДСК Автобан"</text>
<text x="888.4" y="868.4" font-size="10.5" text-anchor="start" fill="#111" textLength="160.6" lengthAdjust="spacingAndGlyphs" style="stroke-width:0.12px">Маркировочный план 1-го этажа</text>
<text x="1071.6" y="812.4" font-size="12" text-anchor="start" fill="#111" textLength="43.4" lengthAdjust="spacingAndGlyphs" style="stroke-width:0.12px">Стадия</text>
<text x="1124" y="812.4" font-size="12" text-anchor="start" fill="#111" textLength="27.6" lengthAdjust="spacingAndGlyphs" style="stroke-width:0.12px">Лист</text>
<text x="1168.6" y="812.4" font-size="12" text-anchor="start" fill="#111" style="stroke-width:0.12px">Листов</text>
<text x="1093.5" y="834" font-size="12" text-anchor="middle" fill="#111" style="stroke-width:0.12px">ЭП</text>
<text x="1137.7" y="834" font-size="12" text-anchor="middle" fill="#111" style="stroke-width:0.12px">13</text>
<text x="1183.7" y="834" font-size="12" text-anchor="middle" fill="#111" style="stroke-width:0.12px">18</text>
<text x="1105.4" y="869.4" font-size="12.5" text-anchor="start" fill="#111" textLength="85" lengthAdjust="spacingAndGlyphs" style="stroke-width:0.12px">ООО "Альянс"</text>
<g fill="none" stroke="#000" stroke-width="1.1" stroke-linecap="round" stroke-linejoin="round">
<path d="M784.5,817.8 C783.5,816 782,813.5 782.5,812.5 C784,811.5 787,812.5 789.5,813.3 M790.8,809.5 C789.5,815 787.5,822 787.3,826 C787.5,827.5 789,827.5 789.5,826 C790.5,822 791.5,819 792.5,816.3 C791.5,820 790,824 790,826.5 C790.5,827.5 792,827.5 792.5,826 C793.5,822 794.5,819 795.5,816.3 C794.8,820 794,824 794,826.5 C794.5,827.8 796,827.8 797,827 M799,821 C797,820.5 795.8,823 796.5,826 C797.5,828 800,827 801,823 C801.5,821.5 801.5,824 802,827 C804,824 807,815 809,810.5 C807,818 803,832 800.5,841 C799.5,843 798.5,842 798.8,839 C799.5,834 802,829 805,826 M810.5,814 C812,812.5 815,811 816.5,812 C815,818 810,830 805,840.5 C804,842.5 803,842 803.5,839 C804.5,834 807.5,830 810,828.5 M810,826 L817.5,821 M817,825.5 C819,823 821,821.8 823,821.5 L828,821.5"/>
<path d="M801,848 C802,850 801,852 799.4,855.5 C799.8,857 802,856.5 804,855.5 C806,854.5 808,853.5 810,853.1 M805.8,857.9 C811,854 816,850.5 823,848.2 C826,847.4 829,847 832,847"/>
<path stroke-width="1.9" d="M786.3,864.4 C790,860 795,855 799.6,850.4 C801,848.5 802.5,846.5 803.5,844.5"/>
<path d="M786.3,874.6 C785,871 790,864 797.5,861.3 C800,860.5 801.5,861.5 800.8,863 C799,867 796,871.5 792,876 C790,877.5 787,877 786.3,874.6 M789.6,875 C789,871 794,865 800,862.9 C801.8,862.5 802.5,863.5 801.5,865 C800,868 798,871 795.5,874 C793.5,876 790.5,876.5 789.6,875 M797.9,873.3 L810,858.3 M800.8,875 C806,869 813,861 819.2,854.6 M804.2,874.2 C810,868 816,862 821.3,858.3 M807,873.3 C810,870 813,867 815.4,865.4 M807,873.3 L801.3,883.3 M795.5,866 C797,864 799,863 800.5,864"/>
</g>
</svg></body></html>
